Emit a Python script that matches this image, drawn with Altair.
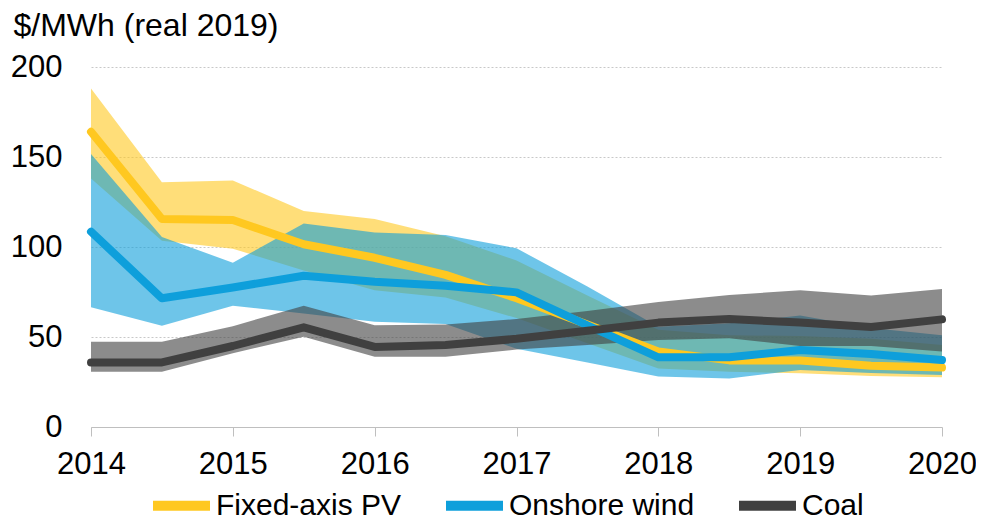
import altair as alt
import pandas as pd

# ---- data ----
years = [2014, 2014.5, 2015, 2015.5, 2016, 2016.5, 2017, 2017.5, 2018, 2018.5, 2019, 2019.5, 2020]

pv_mid = [164, 115.5, 115, 101.5, 94, 84.5, 71.5, 57, 42, 37, 37, 34, 33]
pv_high = [188, 136, 137, 120, 115.5, 106, 92.5, 73, 54, 51, 50.5, 49, 45.5]
pv_low = [138, 103.5, 99, 87, 76, 72, 60.5, 46.5, 32.5, 30.7, 29.8, 28.3, 27.6]

wind_mid = [108.5, 71.5, 77.5, 84, 80.7, 78.5, 74.8, 56.5, 38.7, 38.7, 42.8, 40.6, 37.2]
wind_high = [151.7, 105.5, 91.3, 113, 108, 106.7, 99.3, 78, 55.7, 57.6, 62, 55, 51]
wind_low = [66.5, 56.3, 67.4, 63, 58.5, 57.2, 43.5, 35.8, 28, 27, 31.7, 30, 28.9]

coal_mid = [35.9, 35.9, 45, 55.4, 44.5, 45.5, 49, 53.5, 58, 60, 58, 55.6, 59.8]
coal_high = [47.4, 47.4, 56, 67.4, 56.5, 57, 60, 64.5, 69.5, 73.3, 76, 73, 76.7]
coal_low = [30.7, 30.7, 41, 50.2, 39, 39, 43, 45.6, 48.3, 49.3, 45, 45, 42]

series_names = ["Fixed-axis PV", "Onshore wind", "Coal"]
series_colors = ["#FFC820", "#0E9FDB", "#404040"]
x_ticks = [2014, 2015, 2016, 2017, 2018, 2019, 2020]
y_ticks = [0, 50, 100, 150, 200]
y_title = "$/MWh (real 2019)"

mids = [pv_mid, wind_mid, coal_mid]
highs = [pv_high, wind_high, coal_high]
lows = [pv_low, wind_low, coal_low]

rows = []
for name, col, m, h, l in zip(series_names, series_colors, mids, highs, lows):
    for x, mv, hv, lv in zip(years, m, h, l):
        rows.append({"x": x, "series": name, "col": col, "mid": mv, "high": hv, "low": lv})
df = pd.DataFrame(rows)

FONT = "Liberation Sans"

x_enc = alt.X(
    "x:Q",
    scale=alt.Scale(domain=[2014, 2020], nice=False, zero=False),
    axis=alt.Axis(
        values=x_ticks, format="d", title=None, grid=False,
        domainColor="#BFBFBF", domainWidth=1,
        ticks=True, tickColor="#BFBFBF", tickSize=9, tickWidth=1,
        labelFont=FONT, labelFontSize=31, labelColor="#000000",
        labelPadding=13, labelFlush=False,
    ),
)


def y_enc(field):
    return alt.Y(
        f"{field}:Q",
        scale=alt.Scale(domain=[0, 200], nice=False),
        axis=alt.Axis(
            values=y_ticks, title=y_title, grid=True,
            gridColor="#C8C8C8", gridDash=[2, 2], gridWidth=1,
            domain=False, ticks=False,
            labelFont=FONT, labelFontSize=31, labelColor="#000000",
            labelPadding=29,
            titleAngle=0, titleAlign="left", titleBaseline="alphabetic",
            titleX=-78, titleY=-32,
            titleFont=FONT, titleFontSize=32, titleFontWeight="normal", titleColor="#000000",
        ),
    )


layers = []
for name in series_names:
    layers.append(
        alt.Chart(df)
        .transform_filter(alt.datum.series == name)
        .mark_area(opacity=0.6, interpolate="linear")
        .encode(x=x_enc, y=y_enc("low"), y2="high:Q", fill=alt.Color("col:N", scale=None))
    )

color_enc = alt.Color(
    "series:N",
    scale=alt.Scale(domain=series_names, range=series_colors),
    legend=alt.Legend(
        title=None, orient="none", legendX=57, legendY=405,
        direction="horizontal", symbolType="stroke", symbolSize=3249,
        symbolStrokeWidth=10, labelFont=FONT, labelFontSize=30,
        labelColor="#000000", labelOffset=1, columnPadding=24, labelLimit=0,
    ),
)

for name in series_names:
    layers.append(
        alt.Chart(df)
        .transform_filter(alt.datum.series == name)
        .mark_line(strokeWidth=8, strokeJoin="round", strokeCap="round")
        .encode(x=x_enc, y=y_enc("mid"), color=color_enc)
    )

chart = (
    alt.layer(*layers)
    .properties(
        width=851, height=360,
        autosize=alt.AutoSizeParams(type="none"),
        padding={"left": 83, "top": 59, "right": 34, "bottom": 95},
    )
    .configure_view(stroke=None)
)

chart.save("out.html", embed_options={"renderer": "svg", "actions": False})
